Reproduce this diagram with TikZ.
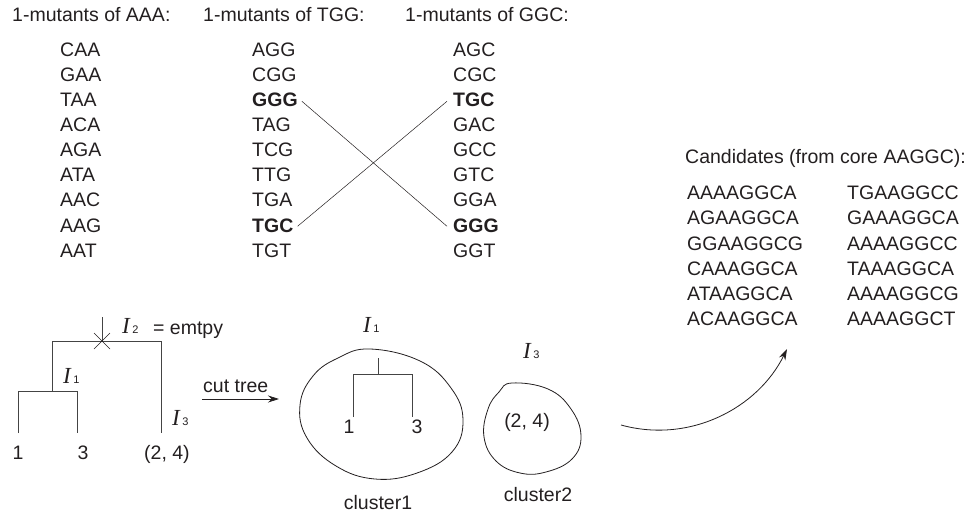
\documentclass[tikz,border=0pt]{standalone}
\usepackage{fontspec}
\setmainfont{Liberation Sans}
\newfontfamily\ifont{Liberation Serif}
\usetikzlibrary{arrows.meta}
\definecolor{ink}{HTML}{231F20}
\definecolor{treeline}{HTML}{444444}
\newcommand{\Ilab}[1]{{\ifont\itshape\fontsize{23}{23}\selectfont I}\hspace{2.5pt}{\fontsize{11}{11}\selectfont #1}}
\begin{document}
\begin{tikzpicture}[x=1pt,y=-1pt,
  txt/.style={inner sep=0pt, anchor=base west, text=ink, font=\fontsize{19.5}{22}\selectfont},
  ctxt/.style={txt, anchor=base},
  ilab/.style={inner sep=0pt, anchor=base west, text=ink},
  tree/.style={draw=treeline, line width=0.9pt},
  cross/.style={draw=ink, line width=0.5pt},
  blob/.style={draw=ink, line width=0.8pt},
  arr/.style={draw=ink, line width=0.8pt, -{Stealth[length=11pt,width=7pt]}}]
\useasboundingbox (0,0) rectangle (974,513);

% headers
\node[txt] (h1) at (12,22) {1-mutants of AAA:};
\node[txt] (h2) at (203,22) {1-mutants of TGG:};
\node[txt] (h3) at (405,22) {1-mutants of GGC:};

% mutant lists
\foreach \t [count=\i from 0] in {CAA,GAA,TAA,ACA,AGA,ATA,AAC,AAG,AAT}
  \node[txt] (a\i) at (60,57+25*\i) {\t};
\foreach \t [count=\i from 0] in {AGG,CGG,\textbf{GGG},TAG,TCG,TTG,TGA,\textbf{TGC},TGT}
  \node[txt] (b\i) at (252,57+25*\i) {\t};
\foreach \t [count=\i from 0] in {AGC,CGC,\textbf{TGC},GAC,GCC,GTC,GGA,\textbf{GGG},GGT}
  \node[txt] (c\i) at (453,57+25*\i) {\t};

\draw[cross] ([xshift=4pt,yshift=-1pt]b2.east) -- ([xshift=-6pt,yshift=-1pt]c7.west);
\draw[cross] ([xshift=4pt,yshift=-1pt]b7.east) -- ([xshift=-6pt,yshift=-1pt]c2.west);

% candidates
\node[txt] (ch) at (685,164) {Candidates (from core AAGGC):};
\foreach \t [count=\i from 0] in {AAAAGGCA,AGAAGGCA,GGAAGGCG,CAAAGGCA,ATAAGGCA,ACAAGGCA}
  \node[txt] (p\i) at (687,200+25*\i) {\t};
\foreach \t [count=\i from 0] in {TGAAGGCC,GAAAGGCA,AAAAGGCC,TAAAGGCA,AAAAGGCG,AAAAGGCT}
  \node[txt] (q\i) at (847,200+25*\i) {\t};

% original tree
\coordinate (l1) at (18,433);
\coordinate (l3) at (77,433);
\coordinate (j1) at (52,391);
\coordinate (rt) at (102,341);
\coordinate (rs) at (102,317);
\coordinate (r3) at (161,433);
\draw[tree] (l1) -- (l1 |- j1) -- (l3 |- j1) -- (l3);
\draw[tree] (j1) -- (j1 |- rt) -- (r3 |- rt) -- (r3);
\draw[tree] (rt) -- (rs);
\draw[cross, line width=0.7pt] ([shift={(-8,-8)}]rt) -- ([shift={(8,8)}]rt);
\draw[cross, line width=0.7pt] ([shift={(-8,8)}]rt) -- ([shift={(8,-8)}]rt);

\node[ctxt] (n1) at (18,459) {1};
\node[ctxt] (n3) at (83,459) {3};
\node[ctxt] (n24) at (167,459) {(2, 4)};
\node[ilab] (i1) at (63,383) {\Ilab{1}};
\node[ilab] (i2) at (122,333) {\Ilab{2}};
\node[txt] (emp) at (153,334) {= emtpy};
\node[ilab] (i3) at (172,425) {\Ilab{3}};

% cut tree arrow
\node[txt] (ct) at (203,392) {cut tree};
\coordinate (ca) at (202,399);
\coordinate (cb) at (279,399);
\draw[arr] (ca) -- (cb);

% cluster 1
\draw[blob] plot[smooth cycle, tension=0.7] coordinates {
  (370,349) (420,361) (451,388) (463,420) (452,452) (417,473) (375,479)
  (336,466) (307,438) (300,405) (313,376) (338,358)};
\coordinate (c1s) at (378,358);
\coordinate (c1j) at (378,374);
\coordinate (c1a) at (353,417);
\coordinate (c1b) at (412,417);
\draw[tree] (c1s) -- (c1j);
\draw[tree] (c1a) -- (c1a |- c1j) -- (c1b |- c1j) -- (c1b);
\node[ctxt] (k1) at (349,433) {1};
\node[ctxt] (k3) at (417,433) {3};
\node[ilab] (ci1) at (363,332) {\Ilab{1}};
\node[ctxt] (cl1) at (378,509) {cluster1};

% cluster 2
\draw[blob] plot[smooth cycle, tension=0.7] coordinates {
  (512,383) (548,389) (571,409) (581,436) (572,459) (546,472) (520,473)
  (496,461) (484,437) (488,409) (499,392)};
\node[ctxt] (k24) at (527,427) {(2, 4)};
\node[ilab] (ci3) at (523,358) {\Ilab{3}};
\node[ctxt] (cl2) at (538,501) {cluster2};

% curved arrow
\coordinate (s) at (621,425);
\coordinate (e) at (787,349);
\draw[arr] (s) .. controls (690,444) and (758,408) .. (e);
\end{tikzpicture}
\end{document}
